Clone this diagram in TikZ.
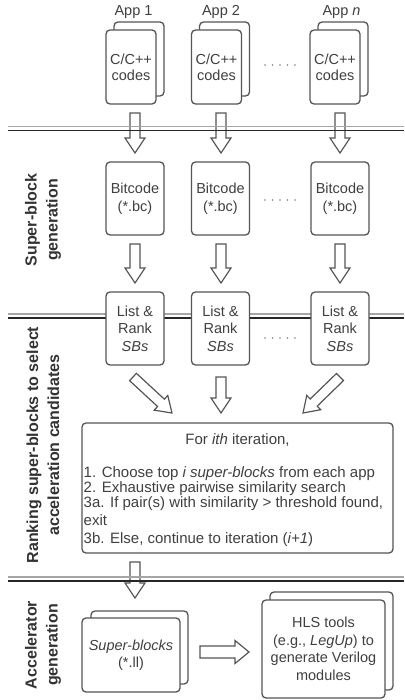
\documentclass[tikz,border=0pt]{standalone}
\usepackage{fontspec}
\setmainfont{Liberation Sans}
\usetikzlibrary{calc}
\definecolor{boxc}{HTML}{555555}
\definecolor{txtc}{HTML}{404040}
\definecolor{sidec}{HTML}{333333}
\newcommand\blockarr[5]{%
  \path (#1) coordinate (ba-s) (#2) coordinate (ba-e);
  \path ($(ba-e)!#5!(ba-s)$) coordinate (ba-h);
  \draw[arrowbody] ($(ba-s)!#3!90:(ba-e)$) -- ($(ba-h)!#3!90:(ba-e)$) -- ($(ba-h)!#4!90:(ba-e)$) -- (ba-e) -- ($(ba-h)!#4!-90:(ba-e)$) -- ($(ba-h)!#3!-90:(ba-e)$) -- ($(ba-s)!#3!-90:(ba-e)$) -- cycle;
}
\tikzset{
  box/.style={draw=boxc, line width=1.3pt, rounded corners=4pt, fill=white, text=txtc, align=center, inner sep=0pt,
    font=\fontsize{14.5}{17.5}\selectfont},
  arrowbody/.style={draw=boxc, line width=1.2pt, line join=miter},
  lbl/.style={text=txtc, font=\fontsize{14.5}{17.5}\selectfont, inner sep=0pt},
  side/.style={text=sidec, font=\fontsize{16}{21}\selectfont\bfseries, rotate=90, align=center, inner sep=0pt},
  sepa/.style={draw=gray!70, line width=1.2pt},
  sepb/.style={draw=black!85, line width=1.2pt},
}
\begin{document}
\begin{tikzpicture}[x=1pt,y=-1pt]
\useasboundingbox (0,0) rectangle (404,700);
\fill[white] (0,0) rectangle (404,700);

% separators
\foreach \ya/\yb in {126.5/130.5, 314/318, 577/581}{
  \draw[sepa] (8,\ya) -- (404,\ya);
  \draw[sepb] (8,\yb) -- (404,\yb);
}

% side labels
\node[side] (s1) at (43,220) {Super-block\\generation};
\node[side] (s2) at (43,445) {Ranking super-blocks to select\\acceleration candidates};
\node[side] (s3) at (43,645) {Accelerator\\generation};

% app labels
\node[lbl] (app1) at (133.5,12) {App 1};
\node[lbl] (app2) at (221,12) {App 2};
\node[lbl] (appn) at (341.5,12) {App \textit{n}};

% code stacks
\foreach \nm/\cx in {1/131, 2/216.5, n/335}{
  \node[box, minimum width=50pt, minimum height=74pt] (codeb\nm) at (\cx+8,59) {};
  \node[box, minimum width=50pt, minimum height=74pt, font=\fontsize{14.5}{16}\selectfont] (code\nm) at (\cx,67) {C/C++\\codes};
}

% bitcode and list boxes
\foreach \nm/\cx in {1/135, 2/220.5, n/340}{
  \node[box, minimum width=58pt, minimum height=73pt] (bc\nm) at (\cx,198.5) {Bitcode\\(*.bc)};
  \node[box, minimum width=58pt, minimum height=73pt] (lr\nm) at (\cx,328.5) {List \&\\Rank\\\textit{SBs}};
}

% dots
\foreach \yy in {65,200,338}{
  \foreach \xx in {265,272.5,280,287.5,295}{
    \fill[gray] (\xx,\yy) circle (0.8pt);
  }
}

% arrows row 1 and 2
\foreach \cx in {135,221,340}{
  \coordinate (r1s) at (\cx,113); \coordinate (r1e) at (\cx,153);
  \blockarr{r1s}{r1e}{5pt}{10pt}{15pt}
  \coordinate (r2s) at (\cx,244); \coordinate (r2e) at (\cx,283);
  \blockarr{r2s}{r2e}{5pt}{10pt}{15pt}
}
% redraw separators over arrows
\draw[sepa] (8,126.5) -- (404,126.5);
\draw[sepb] (8,130.5) -- (404,130.5);

% converging arrows
\coordinate (d1s) at (133,377); \coordinate (d1e) at (172,413);
\coordinate (d2s) at (221,377); \coordinate (d2e) at (221,413);
\coordinate (d3s) at (340,377); \coordinate (d3e) at (303,413);
\blockarr{d1s}{d1e}{5pt}{10pt}{15pt}
\blockarr{d2s}{d2e}{5pt}{10pt}{15pt}
\blockarr{d3s}{d3e}{5pt}{10pt}{15pt}

% iteration box
\node[box, minimum width=311pt, minimum height=130pt] (iter) at (237.5,488) {};
\node[lbl, font=\fontsize{15}{17.5}\selectfont] (iterhead) at (237.5,440) {For \textit{ith} iteration,};
\node[lbl, anchor=base west, align=left, font=\fontsize{15}{15}\selectfont] (iterlist) at (83.5,543)
  {1. Choose top \textit{i super-blocks} from each app\\
   2. Exhaustive pairwise similarity search\\
   3a. If pair(s) with similarity > threshold found,\\[3pt]
   exit\\[3pt]
   3b. Else, continue to iteration (\textit{i+1})};

% arrow to super-blocks
\coordinate (a4s) at (135,562); \coordinate (a4e) at (135,598);
\blockarr{a4s}{a4e}{5pt}{10pt}{15pt}
\draw[sepa] (8,577) -- (404,577);
\draw[sepb] (8,581) -- (404,581);

% super-blocks stack
\node[box, minimum width=97pt, minimum height=73pt] (sbb) at (139.5,647.5) {};
\node[box, minimum width=98pt, minimum height=74pt] (sb) at (131,655) {\textit{Super-blocks}\\(*.ll)};

% HLS stack
\node[box, minimum width=123pt, minimum height=98pt] (hlsb) at (331.5,641) {};
\node[box, minimum width=123pt, minimum height=98pt] (hls) at (323.5,649) {HLS tools\\(e.g., \textit{LegUp}) to\\generate Verilog\\modules};

% horizontal arrow
\coordinate (hs) at (200,652); \coordinate (he) at (249,652);
\blockarr{hs}{he}{6pt}{11.5pt}{14pt}
\end{tikzpicture}
\end{document}
